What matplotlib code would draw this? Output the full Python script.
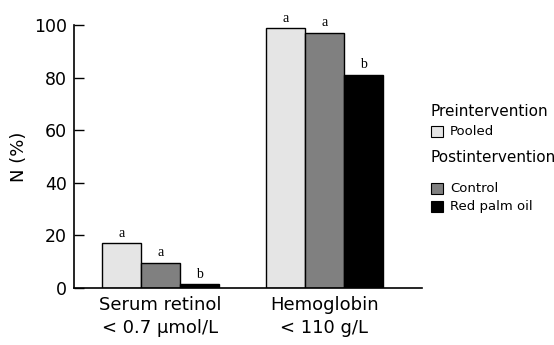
import matplotlib
matplotlib.use("Agg")
import matplotlib.pyplot as plt
from matplotlib.patches import Rectangle

categories = ["Serum retinol\n< 0.7 \u00b5mol/L", "Hemoglobin\n< 110 g/L"]
series_names = ["Pooled", "Control", "Red palm oil"]
pooled = [17, 98.7]
control = [9.6, 97.1]
red_palm_oil = [1.4, 81.0]
letters_pooled = ["a", "a"]
letters_control = ["a", "a"]
letters_rpo = ["b", "b"]
yticks = [0, 20, 40, 60, 80, 100]

colors = ["#e5e5e5", "#808080", "#000000"]

W, H = 554, 345
fig = plt.figure(figsize=(W / 100, H / 100), dpi=100)
ax = fig.add_axes([74 / W, 1 - 288 / H, (422 - 74) / W, (288 - 25) / H])

w = 0.2378
xs = list(range(len(categories)))
allvals = [pooled, control, red_palm_oil]
alllet = [letters_pooled, letters_control, letters_rpo]
for i, (vals, lets) in enumerate(zip(allvals, alllet)):
    offs = (i - 1) * w
    pos = [x + offs for x in xs]
    ax.bar(pos, vals, width=w, color=colors[i], edgecolor="black", linewidth=1.0, zorder=2)
    for p, v, l in zip(pos, vals, lets):
        ax.annotate(l, (p, v), xytext=(0, 2.5), textcoords="offset points",
                    ha="center", va="bottom", fontsize=10, family="Liberation Serif")

ax.set_xlim(-0.5274, 1.5945)
ax.set_ylim(0, 100)
ax.set_yticks(yticks)
ax.set_yticklabels([str(t) for t in yticks], fontsize=12.5)
ax.tick_params(axis="y", direction="in", length=7.5, width=1.0, pad=5)
ax.set_xticks(xs)
ax.set_xticklabels(categories, fontsize=13, linespacing=1.35)
ax.tick_params(axis="x", length=0, pad=6)
for s in ["top", "right"]:
    ax.spines[s].set_visible(False)
for s in ["left", "bottom"]:
    ax.spines[s].set_linewidth(1.2)
ax.set_ylabel("N (%)", fontsize=13, labelpad=4)

# legend
def fx(px):
    return px / W

def fy(py):
    return 1 - py / H

fig.text(fx(430), fy(112), "Preintervention", fontsize=11, va="center", ha="left")
fig.text(fx(430), fy(157), "Postintervention", fontsize=11, va="center", ha="left")
entries = [(131.5, 0), (188.5, 1), (206.5, 2)]
for yc, idx in entries:
    fig.patches.append(Rectangle((fx(431), fy(yc + 5.7)), 11.5 / W, 11.5 / H,
                                 transform=fig.transFigure, facecolor=colors[idx],
                                 edgecolor="black", linewidth=0.8))
    fig.text(fx(450), fy(yc), series_names[idx], fontsize=9.5, va="center", ha="left")

fig.savefig("out.png", dpi=100)
